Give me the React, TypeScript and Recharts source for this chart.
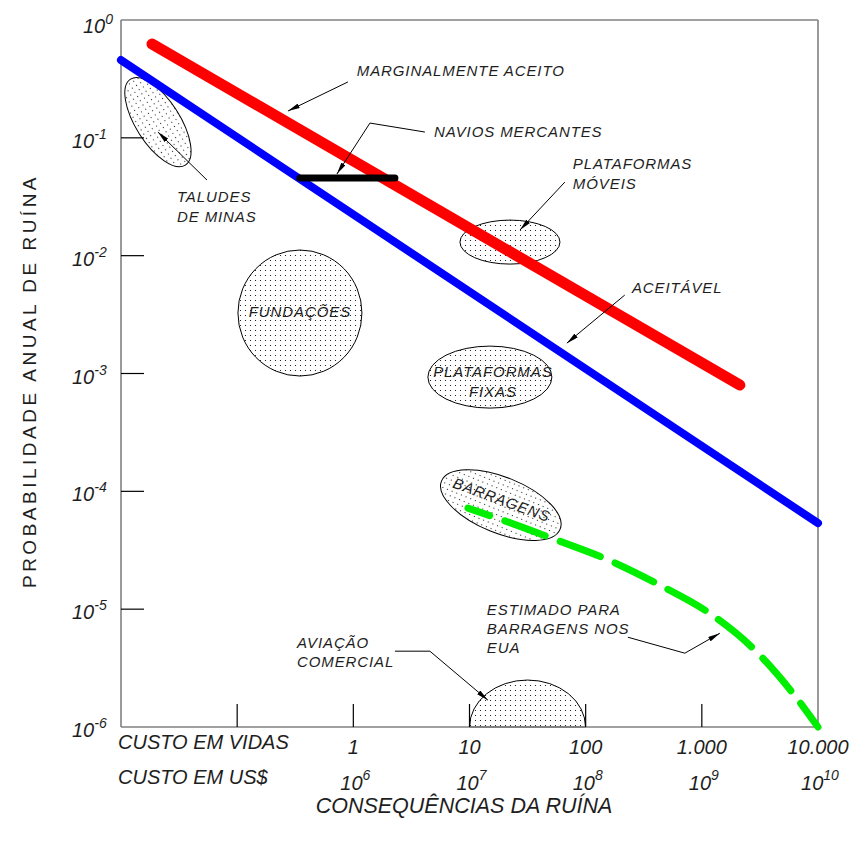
import React from 'react';
import { ComposedChart, Line, Scatter, XAxis, YAxis, ReferenceLine } from 'recharts';

// ---- axes ----
const xTicks = [0.1, 1, 10, 100, 1000, 10000];
const livesLabels = ['', '1', '10', '100', '1.000', '10.000'];
const costExponents = ['', '6', '7', '8', '9', '10'];
const yTicks = [1, 0.1, 0.01, 0.001, 0.0001, 0.00001, 0.000001];
const yExponents = ['0', '-1', '-2', '-3', '-4', '-5', '-6'];

// ---- series ----
const marginallyAccepted = [
  { x: 0.0185, y: 0.625 },
  { x: 2124, y: 0.000797 },
];
const acceptable = [
  { x: 0.01, y: 0.457 },
  { x: 10000, y: 0.0000537 },
];
const merchantShips = [
  { x: 0.347, y: 0.0456 },
  { x: 2.28, y: 0.0456 },
];
const usDams = [
  { x: 9.7, y: 0.000072 },
  { x: 18.3, y: 0.000058 },
  { x: 51, y: 0.00004 },
  { x: 152, y: 0.0000265 },
  { x: 435, y: 0.000016 },
  { x: 1172, y: 0.0000092 },
  { x: 2748, y: 0.00000467 },
  { x: 6067, y: 0.00000194 },
  { x: 10000, y: 0.000001 },
];

// ---- stippled regions (centres) ----
const regions = [
  { id: 'taludes', x: 0.0208, y: 0.136 },
  { id: 'moveis', x: 22.3, y: 0.01304 },
  { id: 'fundacoes', x: 0.347, y: 0.00326 },
  { id: 'fixas', x: 14.98, y: 0.000932 },
  { id: 'barragens', x: 18.6, y: 0.0000764 },
  { id: 'aviacao', x: 31.6, y: 0.000001 },
];

// ---- annotation texts ----
const notes = [
  { id: 'marg', x: 1.07, y: 0.335, lines: ['MARGINALMENTE ACEITO'] },
  { id: 'navios', x: 4.94, y: 0.1016, lines: ['NAVIOS MERCANTES'] },
  { id: 'moveis', x: 77.6, y: 0.0543, lines: ['PLATAFORMAS', 'MÓVEIS'] },
  { id: 'aceitavel', x: 250, y: 0.00482, lines: ['ACEITÁVEL'] },
  { id: 'taludes', x: 0.0303, y: 0.0285, lines: ['TALUDES', 'DE MINAS'] },
  { id: 'fundacoes', x: 0.347, y: 0.00301, lines: ['FUNDAÇÕES'] },
  { id: 'fixas', x: 15.9, y: 0.000932, lines: ['PLATAFORMAS', 'FIXAS'] },
  { id: 'barragens', x: 19.0, y: 0.0000859, lines: ['BARRAGENS'] },
  { id: 'estimado', x: 14.1, y: 0.00000889, lines: ['ESTIMADO PARA', 'BARRAGENS NOS', 'EUA'] },
  { id: 'aviacao', x: 0.327, y: 0.00000467, lines: ['AVIAÇÃO', 'COMERCIAL'] },
];

// ---- leader lines (arrow at last point) ----
const leaderMarginal = [
  { x: 0.898, y: 0.298 },
  { x: 0.2735, y: 0.1688 },
];
const leaderNavios = [
  { x: 4.13, y: 0.112 },
  { x: 1.39, y: 0.1335 },
  { x: 0.722, y: 0.0493 },
];
const leaderMoveis = [
  { x: 66.2, y: 0.0421 },
  { x: 27.2, y: 0.0165 },
];
const leaderAceitavel = [
  { x: 217, y: 0.00463 },
  { x: 68.9, y: 0.00181 },
];
const leaderTaludes = [
  { x: 0.055, y: 0.0438 },
  { x: 0.0208, y: 0.112 },
];
const leaderEstimado = [
  { x: 231, y: 0.00000578 },
  { x: 714, y: 0.00000423 },
  { x: 1429, y: 0.00000625 },
];
const leaderAviacao = [
  { x: 2.28, y: 0.0000044 },
  { x: 4.56, y: 0.0000044 },
  { x: 14.4, y: 0.00000169 },
];
const leaders = [
  leaderMarginal,
  leaderNavios,
  leaderMoveis,
  leaderAceitavel,
  leaderTaludes,
  leaderEstimado,
  leaderAviacao,
];

const FONT = "'Liberation Sans', Arial, Helvetica, sans-serif";
const TXT = '#1e1e1e';
const FRAME = '#808080';

const regionStyle: Record<string, { rx: number; ry: number; rot: number; dome?: boolean }> = {
  taludes: { rx: 51, ry: 22, rot: 57.5 },
  moveis: { rx: 50, ry: 22, rot: 0 },
  fundacoes: { rx: 62, ry: 63, rot: 0 },
  fixas: { rx: 62, ry: 31, rot: 0 },
  barragens: { rx: 64, ry: 28, rot: 22 },
  aviacao: { rx: 58, ry: 47, rot: 0, dome: true },
};

const noteStyle: Record<string, { anchor: string; rot?: number; lh: number }> = {
  marg: { anchor: 'start', lh: 20 },
  navios: { anchor: 'start', lh: 20 },
  moveis: { anchor: 'start', lh: 20 },
  aceitavel: { anchor: 'start', lh: 20 },
  taludes: { anchor: 'start', lh: 20 },
  fundacoes: { anchor: 'middle', lh: 20 },
  fixas: { anchor: 'middle', lh: 20 },
  barragens: { anchor: 'middle', rot: 20, lh: 20 },
  estimado: { anchor: 'start', lh: 19 },
  aviacao: { anchor: 'start', lh: 19 },
};

const renderRegion = (props: any) => {
  const { cx, cy, payload, index } = props;
  const s = regionStyle[payload.id];
  if (s.dome) {
    return (
      <path
        key={`r${index}`}
        d={`M${cx - s.rx},${cy} A${s.rx},${s.ry} 0 0 1 ${cx + s.rx},${cy} Z`}
        fill="url(#stipple)"
        stroke="#000"
        strokeWidth={1}
      />
    );
  }
  return (
    <ellipse
      key={`r${index}`}
      cx={cx}
      cy={cy}
      rx={s.rx}
      ry={s.ry}
      transform={s.rot ? `rotate(${s.rot} ${cx} ${cy})` : undefined}
      fill="url(#stipple)"
      stroke="#000"
      strokeWidth={1}
    />
  );
};

const renderNote = (props: any) => {
  const { cx, cy, payload } = props;
  const s = noteStyle[payload.id];
  return (
    <text
      x={cx}
      y={cy}
      textAnchor={s.anchor as any}
      dominantBaseline={s.rot ? 'central' : undefined}
      transform={s.rot ? `rotate(${s.rot} ${cx} ${cy})` : undefined}
      style={{ fontFamily: FONT, fontStyle: 'italic', fontSize: 15, letterSpacing: 0.9, fill: TXT }}
    >
      {payload.lines.map((l: string, i: number) => (
        <tspan key={i} x={cx} dy={i === 0 ? 0 : s.lh}>
          {l}
        </tspan>
      ))}
    </text>
  );
};

const LeftTick = (props: any) => {
  const { x, y, index } = props;
  const top = index === 0;
  return (
    <g>
      {index > 0 && index < yTicks.length - 1 && (
        <line x1={x} x2={x + 23} y1={y} y2={y} stroke="#000" strokeWidth={1.2} />
      )}
      <text
        x={top ? x - 38 : x - 49}
        y={top ? y + 13 : y + 10}
        style={{ fontFamily: FONT, fontStyle: 'italic', fontSize: 20, fill: TXT }}
      >
        10
        <tspan dy={-9} style={{ fontSize: 14 }}>
          {yExponents[index]}
        </tspan>
      </text>
    </g>
  );
};

const RightTick = (props: any) => {
  const { x, y, index } = props;
  if (index === 0 || index === yTicks.length - 1) return <g />;
  return <line x1={x - 23} x2={x} y1={y} y2={y} stroke="#000" strokeWidth={1.2} />;
};

const BottomTick = (props: any) => {
  const { x, y, index } = props;
  const last = index === xTicks.length - 1;
  return (
    <g>
      {!last && <line x1={x} x2={x} y1={y} y2={y - 23} stroke="#000" strokeWidth={1.2} />}
      {livesLabels[index] && (
        <text
          x={x}
          y={y + 27}
          textAnchor="middle"
          style={{ fontFamily: FONT, fontStyle: 'italic', fontSize: 20, fill: TXT }}
        >
          {livesLabels[index]}
        </text>
      )}
      {costExponents[index] && (
        <text
          x={x + 2}
          y={y + 63}
          textAnchor="middle"
          style={{ fontFamily: FONT, fontStyle: 'italic', fontSize: 20, fill: TXT }}
        >
          10
          <tspan dy={-10} style={{ fontSize: 14 }}>
            {costExponents[index]}
          </tspan>
        </text>
      )}
    </g>
  );
};

const lineCommon = {
  dataKey: 'y',
  type: 'linear' as const,
  dot: false,
  activeDot: false,
  isAnimationActive: false,
};

export default function App() {
  return (
    <ComposedChart width={845} height={830} margin={{ top: 12, right: 35, bottom: 0, left: 0 }}>
      <defs>
        <pattern id="stipple" width="5" height="5" patternUnits="userSpaceOnUse">
          <rect width="5" height="5" fill="#fff" />
          <circle cx="2.5" cy="2.5" r="0.6" fill="#000" />
        </pattern>
        <marker
          id="arrow"
          viewBox="0 0 12 5"
          refX="12"
          refY="2.5"
          markerWidth="12"
          markerHeight="5"
          markerUnits="userSpaceOnUse"
          orient="auto"
        >
          <path d="M0,0 L12,2.5 L0,5 z" fill="#000" />
        </marker>
      </defs>
      <XAxis
        type="number"
        dataKey="x"
        scale="log"
        domain={[0.01, 10000]}
        ticks={xTicks}
        interval={0}
        height={111}
        tickSize={0}
        tickMargin={0}
        tickLine={false}
        axisLine={{ stroke: FRAME, strokeWidth: 1.6 }}
        tick={<BottomTick />}
      />
      <YAxis
        type="number"
        dataKey="y"
        scale="log"
        domain={[0.000001, 1]}
        ticks={yTicks}
        interval={0}
        width={113}
        tickSize={0}
        tickMargin={0}
        tickLine={false}
        axisLine={{ stroke: FRAME, strokeWidth: 1.6 }}
        tick={<LeftTick />}
      />
      <YAxis
        yAxisId="r"
        orientation="right"
        type="number"
        scale="log"
        domain={[0.000001, 1]}
        ticks={yTicks}
        interval={0}
        width={0}
        tickSize={0}
        tickMargin={0}
        tickLine={false}
        axisLine={false}
        tick={<RightTick />}
      />
      <ReferenceLine y={1} stroke={FRAME} strokeWidth={1.6} />
      <ReferenceLine x={10000} stroke={FRAME} strokeWidth={1.6} />

      <Scatter
        data={regions}
        dataKey="y"
        shape={renderRegion}
        isAnimationActive={false}
        {...({ zIndex: 50 } as any)}
      />

      <Line {...lineCommon} data={acceptable} stroke="#0000ff" strokeWidth={8} strokeLinecap="round" {...({ zIndex: 700 } as any)} />
      <Line {...lineCommon} data={marginallyAccepted} stroke="#ff0000" strokeWidth={11} strokeLinecap="round" {...({ zIndex: 710 } as any)} />
      <Line {...lineCommon} data={merchantShips} stroke="#000000" strokeWidth={7} strokeLinecap="round" {...({ zIndex: 720 } as any)} />
      <Line
        {...lineCommon}
        data={usDams}
        type="monotone"
        stroke="#00ee00"
        strokeWidth={7}
        strokeLinecap="round"
        strokeDasharray="43 16"
        strokeDashoffset={20}
        {...({ zIndex: 730 } as any)}
      />
      {leaders.map((d, i) => (
        <Line
          key={i}
          {...lineCommon}
          data={d}
          stroke="#000"
          strokeWidth={1}
          markerEnd="url(#arrow)"
          {...({ zIndex: 740 } as any)}
        />
      ))}

      <Scatter data={notes} dataKey="y" shape={renderNote} isAnimationActive={false} {...({ zIndex: 800 } as any)} />

      <text x={110} y={741} style={{ fontFamily: FONT, fontStyle: 'italic', fontSize: 20, fill: TXT }}>
        CUSTO EM VIDAS
      </text>
      <text x={110} y={776} style={{ fontFamily: FONT, fontStyle: 'italic', fontSize: 20, fill: TXT }}>
        CUSTO EM US$
      </text>
      <text
        x={456}
        y={805}
        textAnchor="middle"
        style={{ fontFamily: FONT, fontStyle: 'italic', fontSize: 21.5, fill: TXT }}
      >
        CONSEQUÊNCIAS DA RUÍNA
      </text>
      <text
        x={21}
        y={373}
        textAnchor="middle"
        dominantBaseline="central"
        transform="rotate(-90 21 373)"
        style={{ fontFamily: FONT, fontSize: 19, letterSpacing: 3.5, fill: TXT }}
      >
        PROBABILIDADE ANUAL DE RUÍNA
      </text>
    </ComposedChart>
  );
}
